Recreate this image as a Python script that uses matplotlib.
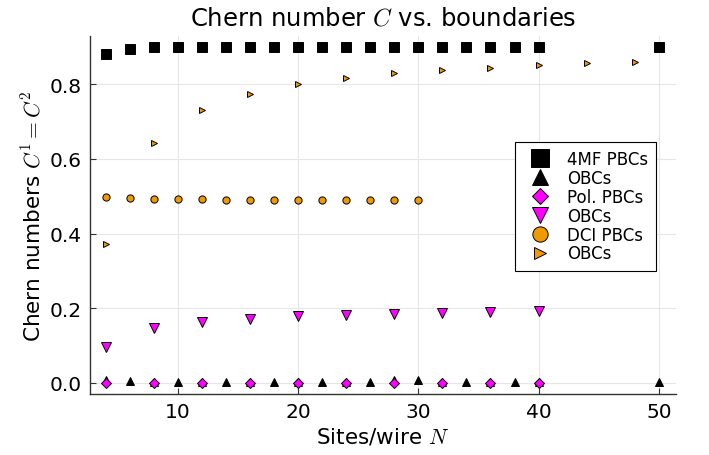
import matplotlib
matplotlib.use("Agg")
import matplotlib.pyplot as plt
from matplotlib.lines import Line2D

plt.rcParams['font.family'] = ['DejaVu Sans']
plt.rcParams['mathtext.fontset'] = 'cm'

# 4-band model, PBCs and OBCs
n_4mf_pbc = [4, 6, 8, 10, 12, 14, 16, 18, 20, 22, 24, 26, 28, 30, 32, 34, 36, 38, 40, 50]
c_4mf_pbc = [0.882, 0.895, 0.900, 0.900, 0.900, 0.900, 0.900, 0.900, 0.900, 0.900,
             0.900, 0.900, 0.900, 0.900, 0.900, 0.900, 0.900, 0.900, 0.900, 0.900]
n_4mf_obc = [4, 6, 8, 10, 12, 14, 16, 18, 20, 22, 24, 26, 28, 30, 32, 34, 36, 38, 40, 50]
c_4mf_obc = [0.006, 0.005, 0.003, 0.002, 0.002, 0.002, 0.002, 0.001, 0.001, 0.001,
             0.002, 0.001, 0.008, 0.006, 0.002, 0.002, 0.002, 0.002, 0.001, 0.001]

# polarization method
n_pol = [4, 8, 12, 16, 20, 24, 28, 32, 36, 40]
c_pol_pbc = [0.0, 0.0, 0.0, 0.0, 0.0, 0.0, 0.0, 0.0, 0.0, 0.0]
c_pol_obc = [0.097, 0.147, 0.164, 0.172, 0.178, 0.182, 0.185, 0.187, 0.190, 0.191]

# DCI
n_dci_pbc = [4, 6, 8, 10, 12, 14, 16, 18, 20, 22, 24, 26, 28, 30]
c_dci_pbc = [0.498, 0.496, 0.494, 0.493, 0.492, 0.491, 0.491, 0.4905, 0.490, 0.490,
             0.4895, 0.489, 0.489, 0.489]
n_dci_obc = [4, 8, 12, 16, 20, 24, 28, 32, 36, 40, 44, 48]
c_dci_obc = [0.373, 0.643, 0.732, 0.774, 0.801, 0.817, 0.830, 0.838, 0.845, 0.852,
             0.857, 0.861]

orange = '#EE9A00'
magenta = '#FF00FF'

fig = plt.figure(figsize=(7.09, 4.56), dpi=100)
ax = fig.add_axes([0.127, 0.134, 0.826, 0.785])

kw = dict(linestyle='none', markeredgecolor='black', markeredgewidth=0.7)
ax.plot(n_4mf_pbc, c_4mf_pbc, marker='s', ms=7.0, color='black', **kw)
ax.plot(n_4mf_obc, c_4mf_obc, marker='^', ms=5.5, color='black', **kw)
ax.plot(n_pol, c_pol_pbc, marker='D', ms=4.6, color=magenta, **kw)
ax.plot(n_pol, c_pol_obc, marker='v', ms=6.8, color=magenta, **kw)
ax.plot(n_dci_pbc, c_dci_pbc, marker='o', ms=5.2, color=orange, **kw)
ax.plot(n_dci_obc, c_dci_obc, marker='>', ms=4.4, color=orange, **kw)

ax.set_xlim(2.7, 51.4)
ax.set_ylim(-0.03, 0.93)
ax.set_xticks([10, 20, 30, 40, 50])
ax.set_yticks([0.0, 0.2, 0.4, 0.6, 0.8])
ax.set_yticklabels(['0.0', '0.2', '0.4', '0.6', '0.8'])
ax.grid(True, color='#e6e6e6', linewidth=0.8)
ax.set_axisbelow(True)
for s in ['top', 'right']:
    ax.spines[s].set_visible(False)
for s in ['left', 'bottom']:
    ax.spines[s].set_color('#333333')
    ax.spines[s].set_linewidth(1.0)
ax.tick_params(direction='in', length=4, width=0.8, labelsize=14.5, color='#333333', pad=6)

ax.set_title('Chern number $C$ vs. boundaries', fontsize=17.5, pad=8)
ax.set_xlabel('Sites/wire $N$', fontsize=15.5, labelpad=3)
ax.set_ylabel('Chern numbers $C^1 = C^2$', fontsize=15.5, labelpad=4)

handles = [
    Line2D([], [], marker='s', ms=13, color='black', label='4MF PBCs', **kw),
    Line2D([], [], marker='^', ms=12, color='black', label='OBCs', **kw),
    Line2D([], [], marker='D', ms=8.5, color=magenta, label='Pol. PBCs', **kw),
    Line2D([], [], marker='v', ms=12, color=magenta, label='OBCs', **kw),
    Line2D([], [], marker='o', ms=11, color=orange, label='DCI PBCs', **kw),
    Line2D([], [], marker='>', ms=8, color=orange, label='OBCs', **kw),
]
leg = ax.legend(handles=handles, loc='upper right', bbox_to_anchor=(0.967, 0.704),
                borderaxespad=0, fontsize=12, labelspacing=0.05, handletextpad=0.6,
                handlelength=2.0, borderpad=0.5, fancybox=False, framealpha=1,
                edgecolor='black')
leg.get_frame().set_linewidth(0.8)

fig.savefig('out.png', dpi=100)
